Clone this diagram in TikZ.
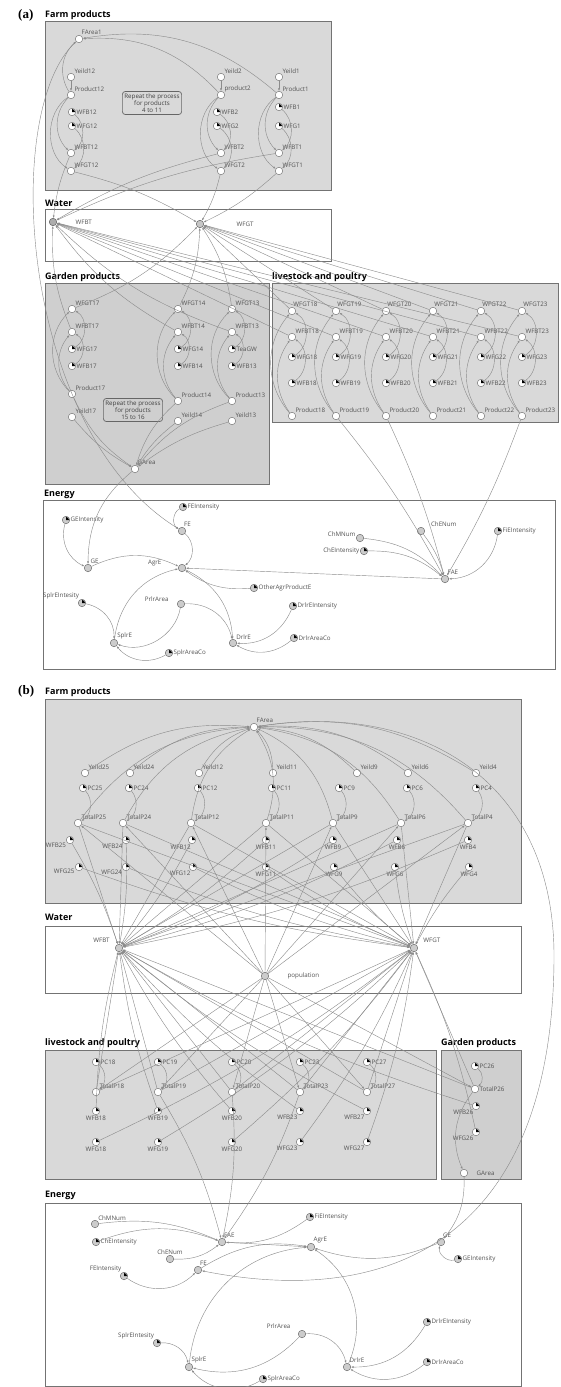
\documentclass[tikz,border=0pt]{standalone}
\usepackage{fontspec}
\setmainfont{Open Sans}
\newfontfamily\tagfont{Liberation Serif}
\usetikzlibrary{arrows.meta}

\begin{document}
\begin{tikzpicture}
    [
        x=1pt, y=-1pt,
        panel/.style={draw=black!55, line width=0.6pt, fill=gray!30},
        gpanel/.style={panel, fill=gray!38},
        wpanel/.style={panel, fill=white},
        title/.style={anchor=base west, inner sep=0pt, font=\bfseries\fontsize{9}{10}\selectfont},
        tag/.style={anchor=base west, inner sep=0pt, font=\tagfont\bfseries\fontsize{13}{14}\selectfont},
        lbl/.style={font=\fontsize{6.2}{7}\selectfont, text=black!68, inner sep=0.5pt},
        note/.style={draw=black!60, line width=0.7pt, rounded corners=3pt, align=center,
            font=\fontsize{6.2}{7.2}\selectfont, text=black!75, inner sep=2pt},
        var/.style={circle, draw=black!55, fill=white, minimum size=7.5pt, inner sep=0pt, line width=0.45pt},
        cst/.style={var, path picture={\fill[black, y=1pt] (path picture bounding box.center)
            -- ++(3pt,0pt) arc[start angle=0, end angle=90, radius=3pt] -- cycle;}},
        evar/.style={var, fill=gray!40, draw=black!60},
        ecst/.style={cst, fill=gray!40, draw=black!60},
        lvl/.style={var, fill=gray!65, draw=black!65},
        link/.style={draw=black!45, line width=0.42pt, -{Latex[length=2.6pt, width=2pt]}},
    ]
    \useasboundingbox (0,0) rectangle (560,1387);

    % ---------- (a) panels
    \node[tag] (tagA) at (18,18) {(a)};
    \draw[panel] (45,21) rectangle (331,190);
    \node[title] (tFarmA) at (45,17) {Farm products};
    \draw[wpanel] (45,209) rectangle (331,261);
    \node[title] (tWaterA) at (45,206) {Water};
    \draw[gpanel] (45,283) rectangle (269,484);
    \node[title] (tGardenA) at (45,279) {Garden products};
    \draw[panel] (272,283) rectangle (558,422);
    \node[title] (tLiveA) at (272,279) {livestock and poultry};
    \draw[wpanel] (43,500) rectangle (555,669);
    \node[title] (tEnergyA) at (44,496) {Energy};

    % farm products (a)
    \node[var, label={[lbl]60:FArea1}] (aFArea1) at (79,39) {};
    \foreach \c/\x/\xw/\yb/\pn in {12/71/72/112/Product12, 2/221/217/112/product2, 1/279/279/107/Product1}
    {
        \node[var, label={[lbl]45:Yeild\c}] (aYeild\c) at (\x,77) {};
        \node[var, label={[lbl]45:\pn}] (aProduct\c) at (\x,95) {};
        \node[cst, label={[lbl]0:WFB\c}] (aWFB\c) at (\xw,\yb) {};
        \node[cst, label={[lbl]0:WFG\c}] (aWFG\c) at (\xw,126) {};
        \node[var, label={[lbl]45:WFBT\c}] (aWFBT\c) at (\x,153) {};
        \node[var, label={[lbl]45:WFGT\c}] (aWFGT\c) at (\x,171) {};
    }
    \node[note] (aRep4) at (152,103) {Repeat the process\\for products\\4 to 11};

    % water (a)
    \node[lvl, label={[lbl,label distance=18pt]0:WFBT}] (aWFBT) at (53,222) {};
    \node[lvl, fill=gray!45, label={[lbl,label distance=32pt]0:WFGT}] (aWFGT) at (200,224) {};

    % garden products (a)
    \foreach \c/\x/\wg/\yp/\yy in {17/72/WFG17/394/417, 14/178/WFG14/401/421, 13/232/TeaGW/401/421}
    {
        \node[var, label={[lbl]45:WFGT\c}] (aWFGT\c) at (\x,309) {};
        \node[var, label={[lbl]45:WFBT\c}] (aWFBT\c) at (\x,332) {};
        \node[cst, label={[lbl]0:\wg}] (a\wg) at (\x,349) {};
        \node[cst, label={[lbl]0:WFB\c}] (aWFB\c) at (\x,366) {};
        \node[var, label={[lbl]45:Product\c}] (aProduct\c) at (\x,\yp) {};
        \node[var, label={[lbl]45:Yeild\c}] (aYeild\c) at (\x,\yy) {};
    }
    \node[note] (aRep15) at (133,410) {Repeat the process\\for products\\15 to 16};
    \node[var, label={[lbl]60:GArea}] (aGArea) at (135,469) {};

    % livestock and poultry (a)
    \foreach \c/\x in {18/292, 19/336, 20/386, 21/433, 22/481, 23/522}
    {
        \node[var, label={[lbl]80:WFGT\c}] (aWFGT\c) at (\x,311) {};
        \node[var, label={[lbl]45:WFBT\c}] (aWFBT\c) at (\x,337) {};
        \node[cst, label={[lbl]0:WFG\c}] (aWFG\c) at (\x,357) {};
        \node[cst, label={[lbl]0:WFB\c}] (aWFB\c) at (\x,383) {};
        \node[var, label={[lbl]45:Product\c}] (aProduct\c) at (\x,416) {};
    }

    % energy (a)
    \node[ecst, label={[lbl]0:FEIntensity}] (aFEIntensity) at (183,507) {};
    \node[ecst, label={[lbl]0:GEIntensity}] (aGEIntensity) at (66,520) {};
    \node[evar, label={[lbl]70:FE}] (aFE) at (182,531) {};
    \node[evar, label={[lbl]60:GE}] (aGE) at (88,568) {};
    \node[evar, label={[lbl,label distance=16pt]175:AgrE}] (aAgrE) at (182,568) {};
    \node[evar, label={[lbl]165:ChMNum}] (aChMNum) at (360,538) {};
    \node[evar, label={[lbl,label distance=6pt]20:ChENum}] (aChENum) at (421,531) {};
    \node[ecst, label={[lbl]180:ChEIntensity}] (aChEIntensity) at (364,551) {};
    \node[ecst, label={[lbl]0:FiEIntensity}] (aFiEIntensity) at (498,531) {};
    \node[evar, label={[lbl]60:FAE}] (aFAE) at (445,579) {};
    \node[ecst, label={[lbl]0:OtherAgrProductE}] (aOtherAgrProductE) at (254,588) {};
    \node[ecst, label={[lbl]125:SplrEIntesity}] (aSplrEIntesity) at (82,603) {};
    \node[evar, label={[lbl,label distance=8pt]170:PrlrArea}] (aPrlrArea) at (181,604) {};
    \node[ecst, label={[lbl]0:DrlrEIntensity}] (aDrlrEIntensity) at (293,606) {};
    \node[evar, label={[lbl]50:SplrE}] (aSplrE) at (114,643) {};
    \node[evar, label={[lbl]50:DrlrE}] (aDrlrE) at (233,643) {};
    \node[ecst, label={[lbl]0:DrlrAreaCo}] (aDrlrAreaCo) at (294,638) {};
    \node[ecst, label={[lbl]0:SplrAreaCo}] (aSplrAreaCo) at (169,653) {};

    % ---------- (b) panels
    \node[tag] (tagB) at (18,694) {(b)};
    \draw[panel] (45,699) rectangle (521,903);
    \node[title] (tFarmB) at (45,694) {Farm products};
    \draw[wpanel] (45,926) rectangle (521,993);
    \node[title] (tWaterB) at (45,920) {Water};
    \draw[panel] (45,1050) rectangle (436,1179);
    \node[title] (tLiveB) at (45,1045) {livestock and poultry};
    \draw[gpanel] (441,1050) rectangle (521,1179);
    \node[title] (tGardenB) at (441,1045) {Garden products};
    \draw[wpanel] (45,1203) rectangle (521,1386);
    \node[title] (tEnergyB) at (45,1197) {Energy};

    % farm products (b)
    \node[var, label={[lbl]60:FArea}] (bFArea) at (254,727) {};
    \foreach \c/\xy/\xp/\xt/\xb/\xg/\ab/\ag in {25/85/83/78/70/79/210/195, 24/130/129/123/126/126/225/210,
        12/199/198/191/192/193/260/240, 11/273/272/266/266/266/270/270, 9/357/339/333/333/334/270/270,
        6/408/407/401/397/395/270/270, 4/476/476/468/468/469/270/270}
    {
        \node[var, label={[lbl]45:Yeild\c}] (bYeild\c) at (\xy,773) {};
        \node[cst, label={[lbl]0:PC\c}] (bPC\c) at (\xp,788) {};
        \node[var, label={[lbl]45:TotalP\c}] (bTotalP\c) at (\xt,823) {};
        \node[cst, label={[lbl]\ab:WFB\c}] (bWFB\c) at (\xb,840) {};
        \node[cst, label={[lbl]\ag:WFG\c}] (bWFG\c) at (\xg,867) {};
    }

    % water (b)
    \node[evar, label={[lbl,label distance=6pt]150:WFBT}] (bWFBT) at (119,948) {};
    \node[evar, label={[lbl,label distance=6pt]30:WFGT}] (bWFGT) at (414,948) {};
    \node[evar, label={[lbl,label distance=18pt]0:population}] (bpop) at (265,976) {};

    % livestock and poultry (b)
    \foreach \c/\x/\ang in {18/96/270, 19/158/270, 20/232/270, 23/300/240, 27/367/240}
    {
        \node[cst, label={[lbl]0:PC\c}] (bPC\c) at (\x,1062) {};
        \node[var, label={[lbl]45:TotalP\c}] (bTotalP\c) at (\x,1092) {};
        \node[cst, label={[lbl]\ang:WFB\c}] (bWFB\c) at (\x,1111) {};
        \node[cst, label={[lbl]\ang:WFG\c}] (bWFG\c) at (\x,1142) {};
    }

    % garden products (b)
    \node[cst, label={[lbl]0:PC26}] (bPC26) at (475,1066) {};
    \node[var, label={[lbl]0:TotalP26}] (bTotalP26) at (475,1089) {};
    \node[cst, label={[lbl]240:WFB26}] (bWFB26) at (476,1106) {};
    \node[cst, label={[lbl]240:WFG26}] (bWFG26) at (476,1132) {};
    \node[var, label={[lbl,label distance=8pt]0:GArea}] (bGArea) at (464,1173) {};

    % energy (b)
    \node[evar, label={[lbl]50:ChMNum}] (bChMNum) at (95,1224) {};
    \node[ecst, label={[lbl]0:FiEIntensity}] (bFiEIntensity) at (310,1217) {};
    \node[evar, label={[lbl]70:FAE}] (bFAE) at (222,1242) {};
    \node[evar, label={[lbl]70:GE}] (bGE) at (441,1242) {};
    \node[ecst, label={[lbl]0:ChEIntensity}] (bChEIntensity) at (96,1242) {};
    \node[evar, label={[lbl]90:ChENum}] (bChENum) at (170,1259) {};
    \node[evar, label={[lbl]60:AgrE}] (bAgrE) at (311,1247) {};
    \node[ecst, label={[lbl]0:GEIntensity}] (bGEIntensity) at (458,1259) {};
    \node[ecst, label={[lbl]120:FEIntensity}] (bFEIntensity) at (124,1276) {};
    \node[evar, label={[lbl]70:FE}] (bFE) at (198,1270) {};
    \node[evar, label={[lbl,label distance=8pt]155:PrlrArea}] (bPrlrArea) at (302,1334) {};
    \node[ecst, label={[lbl]125:SplrEIntesity}] (bSplrEIntesity) at (157,1343) {};
    \node[ecst, label={[lbl]0:DrlrEIntensity}] (bDrlrEIntensity) at (427,1322) {};
    \node[evar, label={[lbl]60:SplrE}] (bSplrE) at (189,1367) {};
    \node[evar, label={[lbl]60:DrlrE}] (bDrlrE) at (347,1367) {};
    \node[ecst, label={[lbl]0:DrlrAreaCo}] (bDrlrAreaCo) at (427,1362) {};
    \node[ecst, label={[lbl]0:SplrAreaCo}] (bSplrAreaCo) at (263,1379) {};

    % ---------- links (a)
    \draw[link] (aProduct12) to[bend left=40] (aFArea1);
    \foreach \c in {2,1}
        \draw[link] (aProduct\c) to[bend right=25] (aFArea1);
    \foreach \c in {12,2,1}
    {
        \draw[link] (aYeild\c) -- (aProduct\c);
        \draw[link] (aProduct\c) to[bend right=45] (aWFBT\c);
        \draw[link] (aProduct\c) to[bend right=55] (aWFGT\c);
        \draw[link] (aWFB\c) to[bend left=50] (aWFBT\c);
        \draw[link] (aWFG\c) to[bend left=50] (aWFGT\c);
        \draw[link] (aWFBT\c) to[bend right=8] (aWFBT);
        \draw[link] (aWFGT\c) to[bend left=8] (aWFGT);
    }
    \foreach \c/\wg in {17/WFG17, 14/WFG14, 13/TeaGW}
    {
        \draw[link] (aProduct\c) to[bend left=40] (aWFBT\c);
        \draw[link] (aProduct\c) to[bend left=45] (aWFGT\c);
        \draw[link] (a\wg) to[bend right=60] (aWFGT\c);
        \draw[link] (aWFB\c) to[bend right=60] (aWFBT\c);
        \draw[link] (aProduct\c) to[bend right=15] (aGArea);
        \draw[link] (aYeild\c) to[bend right=10] (aGArea);
        \draw[link] (aWFBT\c) to[bend left=12] (aWFBT);
        \draw[link] (aWFGT\c) to[bend right=12] (aWFGT);
    }
    \foreach \c in {18,19,20,21,22,23}
    {
        \draw[link] (aProduct\c) to[bend left=35] (aWFBT\c);
        \draw[link] (aProduct\c) to[bend left=40] (aWFGT\c);
        \draw[link] (aWFG\c) to[bend right=60] (aWFGT\c);
        \draw[link] (aWFB\c) to[bend right=55] (aWFBT\c);
        \draw[link] (aWFBT\c) -- (aWFBT);
        \draw[link] (aWFGT\c) -- (aWFGT);
    }
    \foreach \c in {19,20,23}
        \draw[link] (aProduct\c) to[bend left=5] (aFAE);
    \draw[link] (aFArea1) .. controls (0,110) and (20,430) .. (aFE);
    \draw[link] (aGArea) to[bend right=25] (aGE);
    \draw[link] (aGEIntensity) to[bend right=40] (aGE);
    \draw[link] (aGE) to[bend left=25] (aAgrE);
    \draw[link] (aFEIntensity) to[bend right=60] (aFE);
    \draw[link] (aFE) to[bend left=50] (aAgrE);
    \draw[link] (aFAE) -- (aAgrE);
    \draw[link] (aOtherAgrProductE) to[bend left=20] (aAgrE);
    \draw[link] (aSplrE) to[bend left=35] (aAgrE);
    \draw[link] (aAgrE) to[bend left=30] (aDrlrE);
    \draw[link] (aSplrEIntesity) to[bend left=40] (aSplrE);
    \draw[link] (aPrlrArea) to[bend left=50] (aSplrE);
    \draw[link] (aPrlrArea) to[bend left=40] (aDrlrE);
    \draw[link] (aSplrAreaCo) to[bend left=40] (aSplrE);
    \draw[link] (aDrlrEIntensity) to[bend left=35] (aDrlrE);
    \draw[link] (aDrlrAreaCo) to[bend left=35] (aDrlrE);
    \draw[link] (aChMNum) to[bend left=20] (aFAE);
    \draw[link] (aChEIntensity) to[bend left=20] (aFAE);
    \draw[link] (aChENum) to[bend left=10] (aFAE);
    \draw[link] (aFiEIntensity) to[bend left=40] (aFAE);

    % ---------- links (b)
    \foreach \c in {25,24,12}
    {
        \draw[link] (bYeild\c) to[bend left=20] (bFArea);
        \draw[link] (bTotalP\c) to[bend left=25] (bFArea);
    }
    \foreach \c in {11,9,6,4}
    {
        \draw[link] (bYeild\c) to[bend right=20] (bFArea);
        \draw[link] (bTotalP\c) to[bend right=25] (bFArea);
    }
    \foreach \c in {25,24,12,11,9,6,4,18,19,20,23,27,26}
    {
        \draw[link] (bPC\c) to[bend left=50] (bTotalP\c);
        \draw[link] (bpop) -- (bTotalP\c);
        \draw[link] (bTotalP\c) -- (bWFBT);
        \draw[link] (bTotalP\c) -- (bWFGT);
        \draw[link] (bWFB\c) to[bend left=6] (bWFBT);
        \draw[link] (bWFG\c) to[bend right=6] (bWFGT);
    }
    \foreach \c in {19,20,23}
        \draw[link] (bTotalP\c) to[bend left=8] (bFAE);
    \draw[link] (bTotalP26) to[bend right=30] (bGArea);
    \draw[link] (bGArea) to[bend left=20] (bGE);
    \draw[link] (bFArea) .. controls (420,700) and (556,780) .. (554,960)
        .. controls (552,1230) and (400,1310) .. (bFE);
    \draw[link] (bChMNum) to[bend left=15] (bFAE);
    \draw[link] (bChEIntensity) to[bend left=20] (bFAE);
    \draw[link] (bChENum) to[bend right=20] (bFAE);
    \draw[link] (bFiEIntensity) to[bend left=20] (bFAE);
    \draw[link] (bFAE) -- (bAgrE);
    \draw[link] (bGE) to[bend left=20] (bAgrE);
    \draw[link] (bGEIntensity) to[bend left=60] (bGE);
    \draw[link] (bFEIntensity) to[bend right=40] (bFE);
    \draw[link] (bFE) to[bend left=20] (bAgrE);
    \draw[link] (bSplrE) to[bend left=40] (bAgrE);
    \draw[link] (bDrlrE) to[bend right=40] (bAgrE);
    \draw[link] (bPrlrArea) to[bend left=30] (bSplrE);
    \draw[link] (bPrlrArea) to[bend left=40] (bDrlrE);
    \draw[link] (bSplrEIntesity) to[bend left=40] (bSplrE);
    \draw[link] (bSplrAreaCo) to[bend left=40] (bSplrE);
    \draw[link] (bDrlrEIntensity) to[bend left=30] (bDrlrE);
    \draw[link] (bDrlrAreaCo) to[bend left=35] (bDrlrE);
\end{tikzpicture}
\end{document}
